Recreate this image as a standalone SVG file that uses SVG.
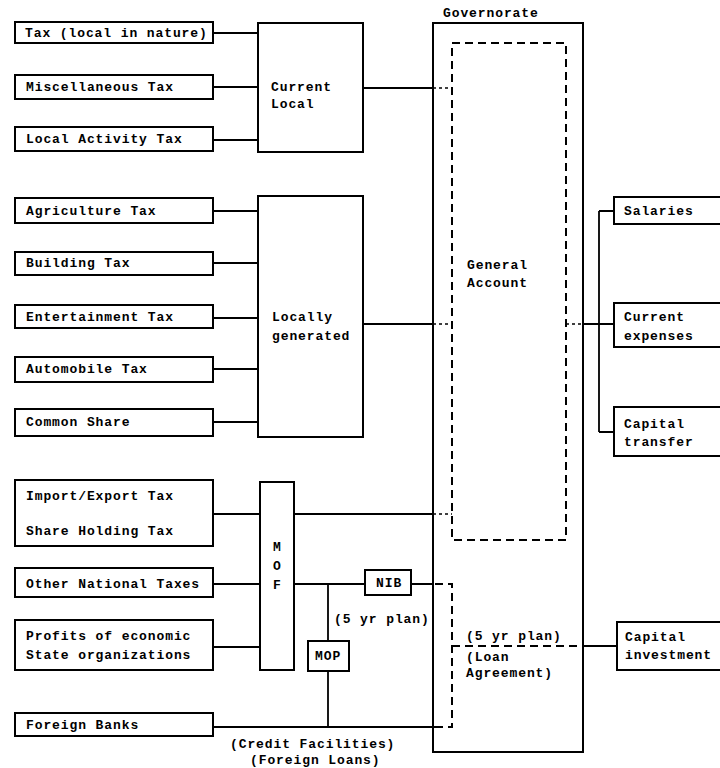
<svg xmlns="http://www.w3.org/2000/svg" width="720" height="768" viewBox="0 0 720 768">
<style>
.box{fill:#fff;stroke:#000;stroke-width:2}
.frame{fill:none;stroke:#000;stroke-width:2}
.dash{fill:none;stroke:#000;stroke-width:2;stroke-dasharray:8 5}
.ln{fill:none;stroke:#000;stroke-width:1.8}
.dot{fill:none;stroke:#000;stroke-width:1.5;stroke-dasharray:3 3}
text{font-family:"Liberation Mono","DejaVu Sans Mono",monospace;font-weight:bold;font-size:13px;letter-spacing:0.9px;fill:#000;dominant-baseline:central}
</style>
<rect width="720" height="768" fill="#fff"/>
<g id="governorate">
<text x="443" y="13">Governorate</text>
<rect class="frame" x="433" y="23" width="150" height="729"/>
</g>
<g id="connectors">
<path class="ln" d="M213 33H258M213 87H258M213 140H258"/>
<path class="ln" d="M363 88H433"/>
<path class="dot" d="M433 88H452"/>
<path class="ln" d="M213 211H258M213 263H258M213 318H258M213 369H258M213 422H258"/>
<path class="ln" d="M363 324H433"/>
<path class="dot" d="M433 324H452M566 324H583"/>
<path class="ln" d="M583 324H614M599 211V432M599 211H614M599 432H614"/>
<path class="ln" d="M213 514H260M294 514H433"/>
<path class="dot" d="M433 514H452"/>
<path class="ln" d="M213 584H260M294 584H365M411 584H433M328 584V641M213 647H260"/>
<path class="ln" d="M328 671V727M213 727H435"/>
<path class="dash" d="M435 584H452V727H435"/>
<path class="dash" d="M452 646H583"/>
<path class="ln" d="M583 646H617"/>
</g>
<g id="general-account">
<rect class="dash" x="452" y="43" width="114" height="497"/>
<text x="467" y="265">General</text>
<text x="467" y="283">Account</text>
</g>
<g id="tax-local"><rect class="box" x="15" y="22" width="198" height="21"/><text x="25" y="33">Tax (local in nature)</text></g>
<g id="misc-tax"><rect class="box" x="15" y="75" width="198" height="24"/><text x="26" y="87">Miscellaneous Tax</text></g>
<g id="local-activity"><rect class="box" x="15" y="127" width="198" height="24"/><text x="26" y="139">Local Activity Tax</text></g>
<g id="current-local"><rect class="box" x="258" y="23" width="105" height="129"/><text x="271" y="87">Current</text><text x="271" y="104">Local</text></g>
<g id="agriculture"><rect class="box" x="15" y="198" width="198" height="25"/><text x="26" y="211">Agriculture Tax</text></g>
<g id="building"><rect class="box" x="15" y="252" width="198" height="23"/><text x="26" y="263">Building Tax</text></g>
<g id="entertainment"><rect class="box" x="15" y="305" width="198" height="23"/><text x="26" y="317">Entertainment Tax</text></g>
<g id="automobile"><rect class="box" x="15" y="357" width="198" height="25"/><text x="26" y="369">Automobile Tax</text></g>
<g id="common-share"><rect class="box" x="15" y="409" width="198" height="27"/><text x="26" y="422">Common Share</text></g>
<g id="locally-generated"><rect class="box" x="258" y="196" width="105" height="241"/><text x="272" y="317">Locally</text><text x="272" y="336">generated</text></g>
<g id="salaries"><rect class="box" x="614" y="197" width="120" height="27"/><text x="624" y="211">Salaries</text></g>
<g id="current-expenses"><rect class="box" x="614" y="303" width="120" height="44"/><text x="624" y="317">Current</text><text x="624" y="336">expenses</text></g>
<g id="capital-transfer"><rect class="box" x="614" y="407" width="120" height="49"/><text x="624" y="424">Capital</text><text x="624" y="442">transfer</text></g>
<g id="import-export"><rect class="box" x="15" y="480" width="198" height="66"/><text x="26" y="496">Import/Export Tax</text><text x="26" y="531">Share Holding Tax</text></g>
<g id="mof"><rect class="box" x="260" y="482" width="34" height="188"/><text x="273" y="547">M</text><text x="273" y="566">O</text><text x="273" y="585">F</text></g>
<g id="other-national"><rect class="box" x="15" y="568" width="198" height="29"/><text x="26" y="584">Other National Taxes</text></g>
<g id="nib"><rect class="box" x="365" y="570" width="46" height="25"/><text x="376" y="583">NIB</text></g>
<text x="334" y="619">(5 yr plan)</text>
<g id="mop"><rect class="box" x="308" y="641" width="41" height="30"/><text x="315" y="656">MOP</text></g>
<g id="profits"><rect class="box" x="15" y="620" width="198" height="50"/><text x="26" y="636">Profits of economic</text><text x="26" y="655">State organizations</text></g>
<g id="foreign-banks"><rect class="box" x="15" y="713" width="198" height="23"/><text x="26" y="725">Foreign Banks</text></g>
<text x="230" y="744">(Credit Facilities)</text>
<text x="250" y="760">(Foreign Loans)</text>
<text x="466" y="636">(5 yr plan)</text>
<text x="466" y="657">(Loan</text>
<text x="466" y="673">Agreement)</text>
<g id="capital-investment"><rect class="box" x="617" y="622" width="120" height="48"/><text x="625" y="637">Capital</text><text x="625" y="655">investment</text></g>
</svg>
